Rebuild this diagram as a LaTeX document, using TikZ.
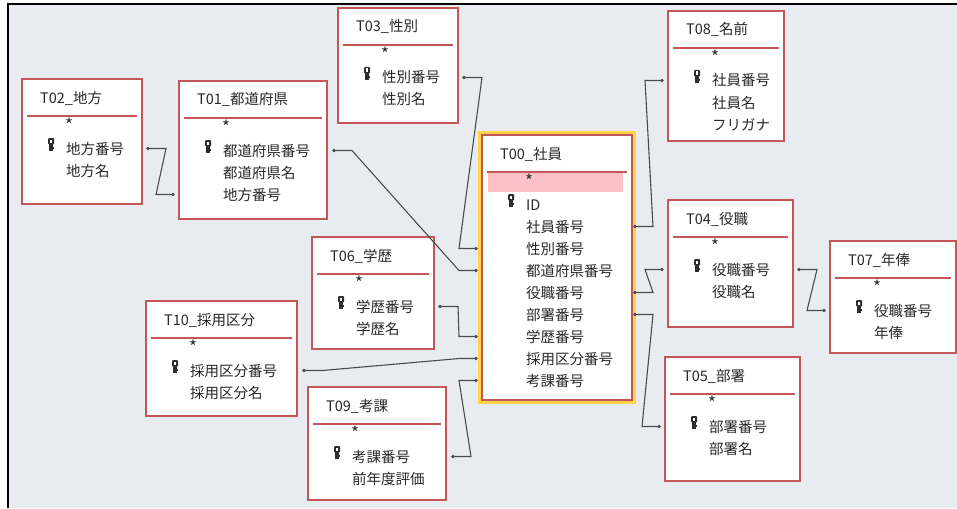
\documentclass[tikz,border=0pt]{standalone}
\usepackage{fontspec}
\newfontfamily\jpfont{Noto Sans CJK JP}
\usetikzlibrary{calc}
\definecolor{bg}{RGB}{232,236,240}
\definecolor{boxred}{RGB}{196,86,88}
\definecolor{hiyellow}{RGB}{255,212,70}
\definecolor{hipink}{RGB}{252,192,198}
\definecolor{txt}{RGB}{40,40,40}
\definecolor{linecol}{RGB}{75,75,75}
\definecolor{keycol}{RGB}{45,45,45}
\tikzset{
  tbox/.style={draw=boxred, fill=white, line width=1.4pt, inner sep=0pt, outer sep=0pt, anchor=north west},
  ttl/.style={font=\jpfont\fontsize{14.5}{16}\selectfont, text=txt, inner sep=0pt, anchor=base west},
  starlbl/.style={font=\jpfont\fontsize{17}{18}\selectfont, text=txt, inner sep=0pt},
  sepline/.style={draw=boxred, line width=2pt},
  conn/.style={draw=linecol, line width=1.1pt},
  enddot/.style={fill=linecol},
  keyicon/.pic={
    \fill[keycol, rounded corners=1pt] (-3,-7) rectangle (3,-0.5);
    \fill[white] (-0.8,-5.5) rectangle (0.8,-2);
    \fill[keycol] (-1.6,-1) rectangle (1.6,6);
    \fill[keycol] (1.6,2.2) rectangle (2.6,3.6);
  }
}
% #1 name, #2 left, #3 top, #4 right, #5 bottom, #6 title, #7 fields, #8 extra
\newcommand\ertable[8]{%
  \node[tbox, minimum width={#4-#2}, minimum height={#5-#3}] (#1) at (#2,#3) {};
  #8
  \draw[sepline] (#2+5,#3+37) -- (#4-5,#3+37);
  \node[ttl] (#1-title) at (#2+18,#3+24) {#6};
  \node[starlbl] (#1-star) at (#2+47,#3+46) {*};
  \pic at (#2+29,#3+66) {keyicon};
  \foreach \t [count=\i] in {#7} {\node[ttl] (#1-f\i) at (#2+44,#3+75+22*\i-22) {\t};}
}
% #1 left node, #2 left field, #3 offset, #4 right node, #5 right field, #6 offset
\newcommand\erlink[6]{%
  \coordinate (#1#2#4#5a) at ($(#1.east |- #1-#2)+(#3,0)$);
  \coordinate (#1#2#4#5b) at ($(#4.west |- #4-#5)+(-#6,0)$);
  \draw[conn] (#1#2#4#5a) -- ++(18,0) -- ($(#1#2#4#5b)+(-17,0)$) -- (#1#2#4#5b);
  \fill[enddot] (#1#2#4#5a) circle (1.8pt) (#1#2#4#5b) circle (1.8pt);
}
\begin{document}
\begin{tikzpicture}[x=1pt,y=-1pt]
\useasboundingbox (0,0) rectangle (957,508);
\fill[white] (0,0) rectangle (957,508);
\fill[bg] (8,4) rectangle (957,508);
\draw[black, line width=2.2pt] (7,4) -- (957,4);
\draw[black, line width=2.5pt] (8,4) -- (8,508);

\ertable{t02}{22}{79}{142}{204}{T02\_地方}{地方番号,地方名}{}
\ertable{t01}{179}{81}{327}{219}{T01\_都道府県}{都道府県番号,都道府県名,地方番号}{}
\ertable{t03}{338}{8}{458}{123}{T03\_性別}{性別番号,性別名}{}
\draw[hiyellow, line width=4pt] (480,133) rectangle (634,402);
\ertable{t00}{482}{135}{632}{400}{T00\_社員}{ID,社員番号,性別番号,都道府県番号,役職番号,部署番号,学歴番号,採用区分番号,考課番号}{\fill[hipink] (488,173) rectangle (623,192);}
\ertable{t08}{668}{11}{784}{141}{T08\_名前}{社員番号,社員名,フリガナ}{}
\ertable{t04}{668}{200}{793}{327}{T04\_役職}{役職番号,役職名}{}
\ertable{t07}{830}{241}{956}{353}{T07\_年俸}{役職番号,年俸}{}
\ertable{t05}{665}{357}{800}{481}{T05\_部署}{部署番号,部署名}{}
\ertable{t06}{312}{237}{434}{349}{T06\_学歴}{学歴番号,学歴名}{}
\ertable{t10}{146}{301}{297}{416}{T10\_採用区分}{採用区分番号,採用区分名}{}
\ertable{t09}{308}{387}{446}{500}{T09\_考課}{考課番号,前年度評価}{}

\erlink{t02}{f1}{6}{t01}{f3}{6}
\erlink{t01}{f1}{7}{t00}{f4}{6}
\erlink{t03}{f1}{6}{t00}{f3}{6}
\erlink{t00}{f2}{3}{t08}{f1}{6}
\erlink{t00}{f5}{3}{t04}{f1}{6}
\erlink{t00}{f6}{3}{t05}{f1}{6}
\erlink{t04}{f1}{6}{t07}{f1}{6}
\erlink{t06}{f1}{6}{t00}{f7}{6}
\erlink{t10}{f1}{7}{t00}{f8}{6}
\erlink{t09}{f1}{7}{t00}{f9}{6}
\end{tikzpicture}
\end{document}
